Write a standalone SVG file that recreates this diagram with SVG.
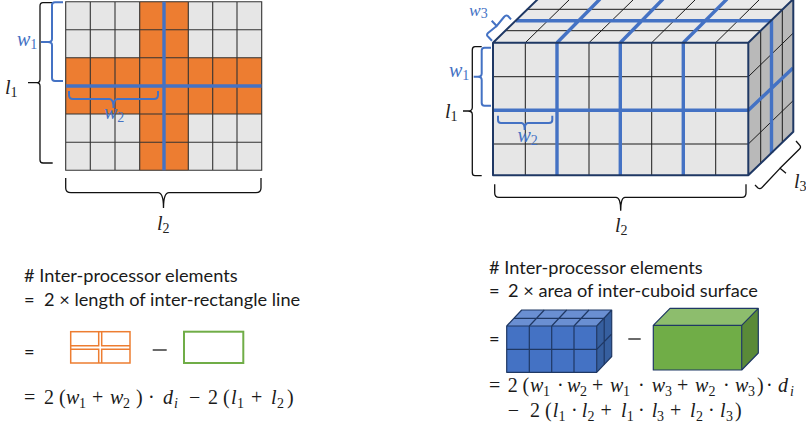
<svg xmlns="http://www.w3.org/2000/svg" width="806" height="427" viewBox="0 0 806 427">
<style>
.cell{stroke:#333;stroke-width:1.1;fill:none}
.thin{stroke:#1a1a1a;stroke-width:1;fill:none}
.blue{stroke:#4472c4;stroke-width:3.4;fill:none}
.bb{stroke:#4472c4;stroke-width:2;fill:none}
.kb{stroke:#111;stroke-width:1.3;fill:none}
.navy{stroke:#1f3864;stroke-width:2;fill:none;stroke-linejoin:round}
.navy1{stroke:#1f3864;stroke-width:1.2;fill:none;stroke-linejoin:round}
.t{font-family:"Lato","Liberation Sans",sans-serif;font-size:18.2px;fill:#1a1a1a}
.m{font-family:"Liberation Serif",serif;font-size:20px;fill:#1a1a1a}
.lb{font-family:"Liberation Serif",serif;font-size:20px;font-style:italic;fill:#222}
.lbb{font-family:"Liberation Serif",serif;font-size:20px;font-style:italic;fill:#4472c4}
.i{font-style:italic}
.s{font-size:14px;font-style:normal}
.si{font-size:14px;font-style:italic}
</style>
<rect width="806" height="427" fill="#fff"/>

<g id="rectangle-grid">
<rect x="65.7" y="1.7" width="196" height="168.6" fill="#e6e6e6"/>
<rect x="139.7" y="1.7" width="48.6" height="168.6" fill="#ed7d31"/>
<rect x="65.7" y="57.7" width="196" height="56.3" fill="#ed7d31"/>
<path class="cell" d="M65.7 1.7H261.7V170.3H65.7ZM90.3 1.7V170.3M115 1.7V170.3M139.7 1.7V170.3M164 1.7V170.3M188.3 1.7V170.3M212.7 1.7V170.3M237 1.7V170.3M65.7 29.7H261.7M65.7 57.7H261.7M65.7 86H261.7M65.7 114H261.7M65.7 142.3H261.7"/>
<path class="blue" d="M66 86H261.5M164 1.7V170.3"/>
</g>
<g id="rectangle-braces">
<path class="kb" d="M52.7 2.7H43Q40 2.7 40 6V79.5Q40 82.7 36.5 82.7H28M36.5 82.7Q40 82.7 40 86V160Q40 163 43 163H52.7"/>
<path class="bb" d="M63 2.3H55Q52 2.3 52 5V39Q52 42 48 42H41M48 42Q52 42 52 45V78Q52 81 55 81H63"/>
<path class="bb" d="M69 91V95Q69 99 73 99H109.5Q113.5 99 113.5 108Q113.5 99 117.5 99H154Q158 99 158 95V91"/>
<path class="kb" d="M65.7 178V188Q65.7 192.7 71 192.7H158Q163.5 192.7 163.5 208Q163.5 192.7 169 192.7H256Q261 192.7 261 188V178"/>
<text class="lbb" x="17" y="46">w<tspan class="s" dy="3">1</tspan></text>
<text class="lb" x="5" y="94">l<tspan class="s" dy="3">1</tspan></text>
<text class="lbb" x="104" y="119">w<tspan class="s" dy="3">2</tspan></text>
<text class="lb" x="157" y="230">l<tspan class="s" dy="3">2</tspan></text>
</g>

<g id="cuboid">
<path d="M493 42.7H748.3L793.3 -1H538Z" fill="#e9e9e9"/>
<path d="M748.3 42.7L793.3 -1V131.7L748.3 175.3Z" fill="#b9b9b9"/>
<rect x="493" y="42.7" width="255.3" height="132.6" fill="#e6e6e6"/>
<path class="thin" d="M525.3 42.7V175.3M589 42.7V175.3M651.7 42.7V175.3M715.7 42.7V175.3M493 76.7H748.3M493 144H748.3M505 30.7H760.7M526.7 9.3H782.3M525.3 42.7L570 -1M589 42.7L634 -1M651.7 42.7L696 -1M715.7 42.7L760 -1M760.7 30.7V164M782.3 9.3V142.7M748.3 76.7L793.3 33M748.3 144L793.3 100.5"/>
<path class="blue" d="M557 42.7V175.3M620.3 42.7V175.3M683.3 42.7V175.3M493 110.3H748.3L793 68M516 20.7H771.5V153M557 42.7L600 -1M620.3 42.7L663 -1M683.3 42.7L727 -1"/>
<path class="navy" d="M493 175.3H748.3V42.7H493ZM493 42.7L538 -1M748.3 42.7L793.3 -1V131.7L748.3 175.3"/>
</g>
<g id="cuboid-braces">
<path class="kb" d="M481.7 46.7H475Q472.3 46.7 472.3 50V107.5Q472.3 111 468 111H463M468 111Q472.3 111 472.3 114.5V172.5Q472.3 175.7 475 175.7H481.7"/>
<path class="bb" d="M491 47.7H484.5Q481.7 47.7 481.7 50.5V73.5Q481.7 76.7 478 76.7H473.7M478 76.7Q481.7 76.7 481.7 80V103Q481.7 105.7 484.5 105.7H491"/>
<path class="bb" d="M498 115.7V120Q498 123 501 123H521.5Q524.7 123 524.7 130Q524.7 123 528 123H549Q552.3 123 552.3 120V115.7"/>
<path class="kb" d="M494.7 184.3V193Q494.7 197.3 499 197.3H616Q620.7 197.3 620.7 210.7Q620.7 197.3 625 197.3H742Q746 197.3 746 193V184.3"/>
<path class="kb" d="M755 185L758 188Q760 189.5 762 187.5L780 168.3L786 173.3L780 168.3L799.5 149Q801.5 147 799.5 145L796 141"/>
<path class="bb" d="M492 40.7L488 36.5Q486 35 488 33L496.7 26L491.7 20.7L496.7 26L504 17Q506 14.5 508 16L511 19.3"/>
<text class="lbb" x="469" y="16" style="font-size:17.5px">w<tspan class="s" dy="2">3</tspan></text>
<text class="lbb" x="449" y="77">w<tspan class="s" dy="3">1</tspan></text>
<text class="lb" x="445" y="118">l<tspan class="s" dy="3">1</tspan></text>
<text class="lbb" x="517.5" y="142">w<tspan class="s" dy="3">2</tspan></text>
<text class="lb" x="615" y="232">l<tspan class="s" dy="3">2</tspan></text>
<text class="lb" x="794" y="188">l<tspan class="s" dy="3">3</tspan></text>
</g>

<g id="left-formula">
<text class="t" x="24" y="281.7"># Inter-processor elements</text>
<text class="t" y="305.7"><tspan x="24">=</tspan><tspan x="44">2 × length of inter-rectangle line</tspan></text>
<text class="t" x="24" y="358">=</text>
<g stroke="#ed7d31" stroke-width="1.5" fill="none">
<rect x="70.7" y="331.7" width="59.3" height="31.3"/>
<path d="M70.7 345.7H98.7V331.7M101.7 331.7V345.7H130M70.7 349.3H98.7V363M101.7 363V349.3H130"/>
</g>
<path d="M152.7 350H166.7" stroke="#1a1a1a" stroke-width="1.3"/>
<rect x="184" y="331.7" width="59.3" height="31.3" fill="none" stroke="#70ad47" stroke-width="2"/>
<text class="m" y="404"><tspan x="24">=</tspan><tspan x="44">2</tspan><tspan x="59">(</tspan><tspan x="66" class="i">w</tspan><tspan x="79" class="s" dy="4">1</tspan><tspan x="92" dy="-4">+</tspan><tspan x="110" class="i">w</tspan><tspan x="123" class="s" dy="4">2</tspan><tspan x="136" dy="-4">)</tspan><tspan x="148">·</tspan><tspan x="163" class="i">d</tspan><tspan x="174" class="si" dy="4">i</tspan><tspan x="189" dy="-4">−</tspan><tspan x="208">2</tspan><tspan x="223">(</tspan><tspan x="231" class="i">l</tspan><tspan x="237" class="s" dy="4">1</tspan><tspan x="251" dy="-4">+</tspan><tspan x="271" class="i">l</tspan><tspan x="277" class="s" dy="4">2</tspan><tspan x="287" dy="-4">)</tspan></text>
</g>

<g id="right-formula">
<text class="t" x="489" y="274"># Inter-processor elements</text>
<text class="t" y="296.7"><tspan x="489">=</tspan><tspan x="508">2 × area of inter-cuboid surface</tspan></text>
<text class="t" x="489" y="345">=</text>
<g id="blue-cuboid">
<path d="M506.7 326H596.7L611.7 310H521.7Z" fill="#6a8fd2"/>
<path d="M596.7 326L611.7 310V356.5L596.7 372.3Z" fill="#365f9f"/>
<rect x="506.7" y="326" width="90" height="46.3" fill="#4472c4"/>
<path class="navy1" d="M529.3 326V372.3M551.7 326V372.3M574 326V372.3M506.7 349.3H596.7L611.7 334M514 318.3H604.2V364.5M529.3 326L544.3 310M551.7 326L566.7 310M574 326L589 310"/>
<path class="navy1" d="M506.7 326H596.7V372.3H506.7ZM506.7 326L521.7 310H611.7V356.5L596.7 372.3M596.7 326L611.7 310"/>
</g>
<path d="M628.3 339H640.7" stroke="#1a1a1a" stroke-width="1.3"/>
<g id="green-cuboid">
<path d="M653.3 325.3H741.7L758.3 308.3H670Z" fill="#8dbd6d"/>
<path d="M741.7 325.3L758.3 308.3V353L741.7 370Z" fill="#5a8a38"/>
<rect x="653.3" y="325.3" width="88.4" height="44.7" fill="#70ad47"/>
<path class="navy1" d="M653.3 325.3H741.7V370H653.3ZM653.3 325.3L670 308.3H758.3V353L741.7 370M741.7 325.3L758.3 308.3"/>
</g>
<text class="m" y="391.7"><tspan x="489">=</tspan><tspan x="507.7">2</tspan><tspan x="522.5">(</tspan><tspan x="530" class="i">w</tspan><tspan x="543" class="s" dy="4">1</tspan><tspan x="557" dy="-4">·</tspan><tspan x="567" class="i">w</tspan><tspan x="580" class="s" dy="4">2</tspan><tspan x="592" dy="-4">+</tspan><tspan x="610" class="i">w</tspan><tspan x="623" class="s" dy="4">1</tspan><tspan x="638" dy="-4">·</tspan><tspan x="651.7" class="i">w</tspan><tspan x="665" class="s" dy="4">3</tspan><tspan x="677" dy="-4">+</tspan><tspan x="695" class="i">w</tspan><tspan x="708.5" class="s" dy="4">2</tspan><tspan x="723" dy="-4">·</tspan><tspan x="735" class="i">w</tspan><tspan x="748" class="s" dy="4">3</tspan><tspan x="757" dy="-4">)</tspan><tspan x="766">·</tspan><tspan x="778" class="i">d</tspan><tspan x="790" class="si" dy="4">i</tspan></text>
<text class="m" y="416.7"><tspan x="507.7">−</tspan><tspan x="530">2</tspan><tspan x="545">(</tspan><tspan x="552.7" class="i">l</tspan><tspan x="558.5" class="s" dy="4">1</tspan><tspan x="571" dy="-4">·</tspan><tspan x="581.7" class="i">l</tspan><tspan x="587.5" class="s" dy="4">2</tspan><tspan x="600.5" dy="-4">+</tspan><tspan x="621" class="i">l</tspan><tspan x="626.7" class="s" dy="4">1</tspan><tspan x="638" dy="-4">·</tspan><tspan x="651.7" class="i">l</tspan><tspan x="657" class="s" dy="4">3</tspan><tspan x="670" dy="-4">+</tspan><tspan x="690" class="i">l</tspan><tspan x="696" class="s" dy="4">2</tspan><tspan x="708" dy="-4">·</tspan><tspan x="720" class="i">l</tspan><tspan x="726" class="s" dy="4">3</tspan><tspan x="735" dy="-4">)</tspan></text>
</g>
</svg>
